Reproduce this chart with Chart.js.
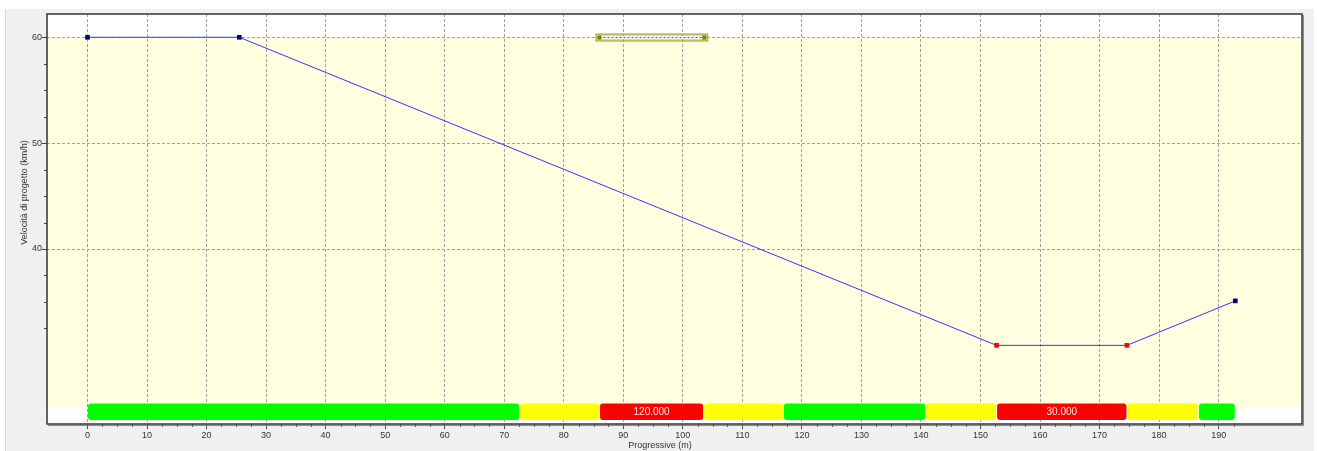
<!DOCTYPE html>
<html>
<head>
<meta charset="utf-8">
<script src="https://cdn.jsdelivr.net/npm/chart.js@4.4.1/dist/chart.umd.min.js"></script>
<style>
html,body{margin:0;padding:0;background:#fff;}
canvas{display:block;}
</style>
</head>
<body>
<canvas id="c" width="1317" height="451"></canvas>
<script>
// ---- data ----
const progressive = [0, 25.5, 152.7, 174.6, 192.8];
const speed = [60, 60, 30.9, 30.9, 35.1];
const pointKind = ['n', 'n', 'r', 'r', 'n'];

const xTickValues = [0,10,20,30,40,50,60,70,80,90,100,110,120,130,140,150,160,170,180,190];
const yTickValues = [40, 50, 60];

const curveStart = [86];
const curveEnd = [103.6];
const curveLevel = [60];

const segStart = [0, 72.6, 86, 103.5, 116.9, 140.8, 152.7, 174.6, 186.6];
const segEnd   = [72.6, 86, 103.5, 116.9, 140.8, 152.7, 174.6, 186.6, 192.8];
const segType  = ['g','y','r','y','g','y','r','y','g'];
const segLabel = ['', '', '120.000', '', '', '', '30.000', '', ''];

const bandTop = 60, bandBottom = 25;
const barTop = 25.4, barBottom = 23.85;

const FONT = '"Liberation Sans", Arial, sans-serif';
const segColors = {g: '#00ff00', y: '#ffff00', r: '#ff0000'};

function rr(ctx, x, y, w, h, r) {
  ctx.beginPath();
  ctx.moveTo(x + r, y);
  ctx.lineTo(x + w - r, y);
  ctx.quadraticCurveTo(x + w, y, x + w, y + r);
  ctx.lineTo(x + w, y + h - r);
  ctx.quadraticCurveTo(x + w, y + h, x + w - r, y + h);
  ctx.lineTo(x + r, y + h);
  ctx.quadraticCurveTo(x, y + h, x, y + h - r);
  ctx.lineTo(x, y + r);
  ctx.quadraticCurveTo(x, y, x + r, y);
  ctx.closePath();
}

const deco = {
  id: 'deco',
  beforeDraw(chart) {
    const ctx = chart.ctx, a = chart.chartArea;
    const ys = chart.scales.y;
    ctx.save();
    ctx.fillStyle = '#fff';
    ctx.fillRect(0, 0, chart.width, chart.height);
    ctx.fillStyle = '#f0f0f0';
    ctx.fillRect(5, 9, 1309, 442);
    ctx.fillStyle = '#d8d8d8';
    ctx.fillRect(5, 9, 1, 442);
    ctx.fillStyle = '#fff';
    ctx.fillRect(a.left, a.top, a.right - a.left, a.bottom - a.top);
    const t = ys.getPixelForValue(bandTop), b = ys.getPixelForValue(bandBottom);
    ctx.fillStyle = '#ffffe0';
    ctx.fillRect(a.left, t, a.right - a.left, b - t);
    ctx.restore();
  },
  beforeDatasetsDraw(chart) {
    const ctx = chart.ctx;
    const xs = chart.scales.x, ys = chart.scales.y;
    ctx.save();
    const t = ys.getPixelForValue(barTop), b = ys.getPixelForValue(barBottom);
    for (let i = 0; i < segStart.length; i++) {
      const x0 = xs.getPixelForValue(segStart[i]) + 0.5;
      const x1 = xs.getPixelForValue(segEnd[i]) - 0.5;
      ctx.fillStyle = segColors[segType[i]];
      rr(ctx, x0, t, x1 - x0, b - t, 3);
      ctx.fill();
      if (segLabel[i]) {
        ctx.fillStyle = '#ffe8e8';
        ctx.font = '10px ' + FONT;
        ctx.textAlign = 'center';
        ctx.textBaseline = 'middle';
        ctx.fillText(segLabel[i], (x0 + x1) / 2, (t + b) / 2 + 0.5);
      }
    }
    ctx.restore();
  },
  afterDatasetsDraw(chart) {
    const ctx = chart.ctx;
    const xs = chart.scales.x, ys = chart.scales.y;
    ctx.save();
    for (let i = 0; i < curveStart.length; i++) {
      const x0 = xs.getPixelForValue(curveStart[i]);
      const x1 = xs.getPixelForValue(curveEnd[i]);
      const y = Math.round(ys.getPixelForValue(curveLevel[i])) + 0.5;
      ctx.fillStyle = 'rgba(180,180,80,0.5)';
      ctx.fillRect(x0 - 3.5, y - 3.5, x1 - x0 + 7, 7);
      ctx.strokeStyle = '#a0a020';
      ctx.lineWidth = 1;
      ctx.strokeRect(x0 - 3.5, y - 3.5, x1 - x0 + 7, 7);
      ctx.fillStyle = '#ffffff';
      ctx.fillRect(x0, y - 1.5, x1 - x0, 3);
      ctx.strokeStyle = '#4040ff';
      ctx.setLineDash([2, 2]);
      ctx.beginPath();
      ctx.moveTo(x0, y);
      ctx.lineTo(x1, y);
      ctx.stroke();
      ctx.setLineDash([]);
      ctx.fillStyle = '#808000';
      ctx.fillRect(x0 - 2, y - 2, 4, 4);
      ctx.fillRect(x1 - 2, y - 2, 4, 4);
    }
    ctx.restore();
  },
  afterDraw(chart) {
    const ctx = chart.ctx, a = chart.chartArea;
    const xs = chart.scales.x, ys = chart.scales.y;
    ctx.save();
    ctx.strokeStyle = '#444';
    ctx.lineWidth = 1;
    ctx.beginPath();
    for (let v = 0; v <= 192.5; v += 2.5) {
      if (v % 10 === 0) continue;
      const x = Math.round(xs.getPixelForValue(v)) + 0.5;
      ctx.moveTo(x, a.bottom);
      ctx.lineTo(x, a.bottom + 3);
    }
    for (let v = 32.5; v <= 60; v += 2.5) {
      if (v % 10 === 0) continue;
      const y = Math.round(ys.getPixelForValue(v)) + 0.5;
      ctx.moveTo(a.left, y);
      ctx.lineTo(a.left - 3, y);
    }
    ctx.stroke();
    ctx.strokeStyle = '#333';
    ctx.lineWidth = 1.5;
    ctx.strokeRect(a.left, a.top, a.right - a.left, a.bottom - a.top);
    ctx.strokeStyle = '#888';
    ctx.lineWidth = 1;
    ctx.beginPath();
    ctx.moveTo(a.left + 1, a.bottom + 1.5);
    ctx.lineTo(a.right + 1.5, a.bottom + 1.5);
    ctx.lineTo(a.right + 1.5, a.top + 1);
    ctx.stroke();
    ctx.fillStyle = '#333';
    ctx.font = '9px ' + FONT;
    ctx.textAlign = 'center';
    ctx.textBaseline = 'middle';
    ctx.fillText('Progressive (m)', 660, 446);
    ctx.translate(25, 192.5);
    ctx.rotate(-Math.PI / 2);
    ctx.fillText('Velocità di progetto (km/h)', 0, 0);
    ctx.restore();
  }
};

const pts = progressive.map((x, i) => ({x: x, y: speed[i]}));

new Chart(document.getElementById('c'), {
  type: 'line',
  data: {
    datasets: [{
      data: pts,
      borderColor: '#3535ff',
      borderWidth: 1,
      pointStyle: 'rect',
      pointRadius: 3.3,
      pointBorderWidth: 0,
      pointBackgroundColor: pointKind.map(k => k === 'r' ? '#ff0000' : '#000080'),
      pointBorderColor: pointKind.map(k => k === 'r' ? '#ff0000' : '#000080'),
      tension: 0,
      clip: false
    }]
  },
  options: {
    responsive: false,
    animation: false,
    devicePixelRatio: 1,
    layout: {padding: {left: 5, top: 14, right: 15, bottom: 0}},
    plugins: {legend: {display: false}, tooltip: {enabled: false}},
    scales: {
      x: {
        type: 'linear',
        min: -6.8,
        max: 204,
        afterBuildTicks: s => { s.ticks = xTickValues.map(v => ({value: v})); },
        afterFit: s => { s.height = 27; },
        ticks: {
          color: '#333',
          font: {family: FONT, size: 9},
          padding: 1,
          maxRotation: 0,
          autoSkip: false,
          callback: v => String(v)
        },
        grid: {
          color: '#a0a0a0',
          lineWidth: 1,
          drawTicks: true,
          tickLength: 5,
          tickColor: '#444',
          tickBorderDash: []
        },
        border: {display: false, dash: [3, 2]}
      },
      y: {
        type: 'linear',
        min: 23.47,
        max: 62.2,
        afterBuildTicks: s => { s.ticks = yTickValues.map(v => ({value: v})); },
        afterFit: s => { s.width = 42; },
        ticks: {
          color: '#333',
          font: {family: FONT, size: 9},
          padding: 0,
          autoSkip: false,
          callback: v => String(v)
        },
        grid: {
          color: '#a0a0a0',
          lineWidth: 1,
          drawTicks: true,
          tickLength: 5,
          tickColor: '#444',
          tickBorderDash: []
        },
        border: {display: false, dash: [3, 2]}
      }
    }
  },
  plugins: [deco]
});
</script>
</body>
</html>
